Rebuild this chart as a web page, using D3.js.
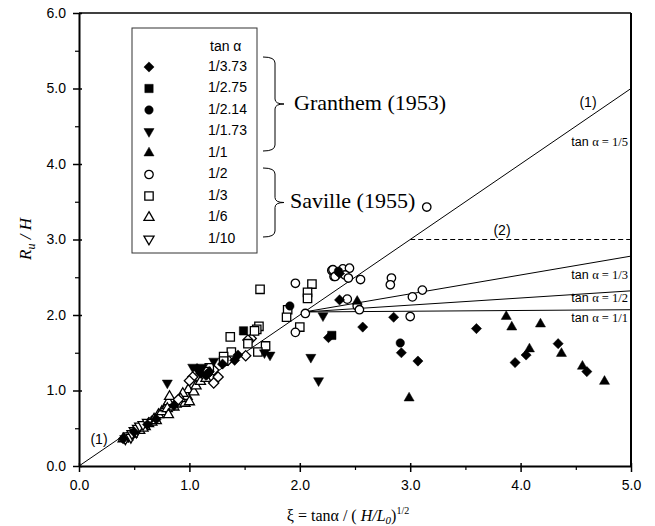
<!DOCTYPE html>
<html><head><meta charset="utf-8">
<script src="https://cdn.jsdelivr.net/npm/d3@7"></script>
<style>body{margin:0;background:#fff}</style>
</head><body>
<svg id="c" width="655" height="526"></svg>
<script>
// ---- data ----
const xTickValues = [0, 1, 2, 3, 4, 5];
const yTickValues = [0, 1, 2, 3, 4, 5, 6];
const legendLabels = ["1/3.73", "1/2.75", "1/2.14", "1/1.73", "1/1", "1/2", "1/3", "1/6", "1/10"];
const legendSymbols = ["diamond", "square", "circle", "down", "up", "circle", "square", "up", "down"];
const legendFilled = [true, true, true, true, true, false, false, false, false];

const g373 = [[0.40,0.36],[0.50,0.45],[0.62,0.55],[0.70,0.62],[0.86,0.80],[1.07,1.29],[1.10,1.23],[1.15,1.20],[1.18,1.25],[1.30,1.35],[1.41,1.40],[1.44,1.47],[2.26,1.70],[2.36,2.55],[2.36,2.20],[2.57,1.84],[2.85,1.97],[2.92,1.50],[3.07,1.39],[3.60,1.82],[3.95,1.37],[4.05,1.47],[4.34,1.62],[4.60,1.25]];
const g275 = [[1.49,1.79],[2.29,1.73]];
const g214 = [[1.91,2.12],[2.35,2.58],[2.91,1.63]];
const g173 = [[0.80,1.10],[1.03,1.31],[1.12,1.31],[1.08,1.27],[1.22,1.39],[1.68,1.50],[1.73,1.47],[2.10,1.44],[2.17,1.13],[2.21,1.99]];
const g1 = [[2.99,0.90],[2.52,2.18],[3.87,1.98],[3.92,1.84],[4.18,1.88],[4.08,1.55],[4.37,1.49],[4.56,1.32],[4.76,1.12]];
const s2 = [[1.96,2.42],[2.29,2.59],[2.31,2.51],[2.30,2.60],[2.39,2.61],[2.45,2.62],[2.32,2.51],[2.41,2.53],[2.44,2.49],[2.55,2.47],[2.83,2.49],[2.82,2.40],[3.11,2.33],[3.02,2.24],[3.00,1.98],[2.43,2.21],[2.52,2.12],[2.54,2.07],[2.05,2.02],[1.96,1.77],[3.15,3.43]];
const s3 = [[1.64,2.34],[2.11,2.41],[2.07,2.30],[2.07,2.22],[1.89,2.07],[1.88,1.97],[2.00,1.84],[1.63,1.85],[1.61,1.81],[1.59,1.79],[1.37,1.71],[1.53,1.62],[1.69,1.59],[1.62,1.51],[1.38,1.51],[1.31,1.45],[1.31,1.39],[1.18,1.30],[1.15,1.25]];
const s6 = [[0.40,0.36],[0.44,0.38],[0.48,0.42],[0.55,0.47],[0.60,0.52],[0.63,0.56],[0.66,0.58],[0.68,0.62],[0.72,0.68],[0.75,0.72],[0.78,0.77],[0.80,0.80],[0.81,0.85],[0.82,0.92],[0.80,0.76],[0.81,0.68],[0.96,0.83],[0.98,0.92],[1.00,0.85],[0.99,1.01],[1.04,0.98],[0.94,0.96],[1.06,1.06],[1.10,1.12],[1.15,1.16],[0.88,0.82],[0.92,0.89],[0.86,0.78],[0.70,0.60],[0.58,0.50]];
const s10 = [[0.42,0.36],[0.45,0.40],[0.47,0.38],[0.48,0.43],[0.50,0.47],[0.52,0.45],[0.53,0.50],[0.55,0.53],[0.58,0.55],[0.62,0.58]];
const openDiamonds = [[1.22,1.27],[1.26,1.18],[1.22,1.10],[1.03,1.18],[1.00,1.13],[1.56,1.69],[1.53,1.67],[1.51,1.46],[1.16,1.22],[0.90,0.88],[1.35,1.40]];

const line1 = [[0, 0], [5, 5]];
const line2 = [[3, 3], [5, 3]];
const lineT3 = [[2.04, 2.04], [5, 2.78]];
const lineT2 = [[2.04, 2.04], [5, 2.32]];
const lineT1 = [[2.04, 2.04], [5, 2.07]];

// ---- drawing ----
const svg = d3.select("#c");
const L = 79, R = 631, T = 13, B = 466;
const x = d3.scaleLinear().domain([0, 5]).range([L, R]);
const y = d3.scaleLinear().domain([0, 6]).range([B, T]);
const sans = "'Liberation Sans', Arial, sans-serif";
const serif = "'Liberation Serif', 'Times New Roman', serif";

// frame
svg.append("line").attr("x1", L).attr("x2", R).attr("y1", T).attr("y2", T).attr("stroke", "#000").attr("stroke-width", 1.5);
svg.append("line").attr("x1", R).attr("x2", R).attr("y1", T).attr("y2", B).attr("stroke", "#000").attr("stroke-width", 2);

// axes
const xAxis = d3.axisBottom(x).tickValues(xTickValues).tickFormat(d3.format(".1f")).tickSizeInner(6).tickSizeOuter(0);
const gx = svg.append("g").attr("transform", `translate(0,${B})`).call(xAxis);
gx.select(".domain").attr("stroke-width", 2);
gx.selectAll(".tick line").attr("y1", -3).attr("stroke-width", 1.5);
gx.selectAll(".tick text").attr("font-family", sans).attr("font-size", 14).attr("y", 11).attr("dy", "0.95em");
const xMinor = d3.axisBottom(x).tickValues([0.5,1.5,2.5,3.5,4.5]).tickFormat("").tickSize(4).tickSizeOuter(0);
const gxm = svg.append("g").attr("transform", `translate(0,${B})`).call(xMinor);
gxm.select(".domain").remove();
gxm.selectAll(".tick line").attr("stroke-width", 1.2);

const yAxis = d3.axisLeft(y).tickValues(yTickValues).tickFormat(d3.format(".1f")).tickSizeInner(6).tickSizeOuter(0);
const gy = svg.append("g").attr("transform", `translate(${L},0)`).call(yAxis);
gy.select(".domain").attr("stroke-width", 2);
gy.selectAll(".tick line").attr("x1", 3).attr("stroke-width", 1.5);
gy.selectAll(".tick text").attr("font-family", sans).attr("font-size", 14).attr("x", -13);
const yMinor = d3.axisLeft(y).tickValues([0.5,1.5,2.5,3.5,4.5,5.5]).tickFormat("").tickSize(4).tickSizeOuter(0);
const gym = svg.append("g").attr("transform", `translate(${L},0)`).call(yMinor);
gym.select(".domain").remove();
gym.selectAll(".tick line").attr("stroke-width", 1.2);

// axis titles
const xt = svg.append("text").attr("x", 348).attr("y", 521).attr("text-anchor", "middle")
  .attr("font-family", serif).attr("font-size", 16);
xt.append("tspan").text("ξ = tanα / ( ");
xt.append("tspan").attr("font-style", "italic").text("H/L");
xt.append("tspan").attr("font-style", "italic").attr("font-size", 11).attr("dy", 3).text("0");
xt.append("tspan").attr("dy", -3).text(")");
xt.append("tspan").attr("font-size", 10).attr("dy", -7).text("1/2");

const yt = svg.append("text").attr("transform", `translate(31,239) rotate(-90)`).attr("text-anchor", "middle")
  .attr("font-family", serif).attr("font-size", 17).attr("font-style", "italic");
yt.append("tspan").text("R");
yt.append("tspan").attr("font-size", 12).attr("dy", 4).text("u");
yt.append("tspan").attr("dy", -4).text(" / H");

// lines
const lineGen = d3.line().x(d => x(d[0])).y(d => y(d[1]));
[line1, lineT3, lineT2, lineT1].forEach(l => {
  svg.append("path").attr("d", lineGen(l)).attr("fill", "none").attr("stroke", "#000").attr("stroke-width", 1);
});
svg.append("path").attr("d", lineGen(line2)).attr("fill", "none").attr("stroke", "#000").attr("stroke-width", 1).attr("stroke-dasharray", "5,3");

// line labels
function lbl(tx, ty, txt, anchor) {
  svg.append("text").attr("x", tx).attr("y", ty).attr("text-anchor", anchor || "middle")
    .attr("dominant-baseline", "middle").attr("font-family", sans).attr("font-size", 14).text(txt);
}
lbl(99, 440, "(1)");
lbl(588, 103, "(1)");
lbl(502, 231, "(2)");
function tanLbl(ty, frac) {
  const t = svg.append("text").attr("x", 628).attr("y", ty).attr("text-anchor", "end")
    .attr("dominant-baseline", "middle").attr("font-size", 12.5);
  t.append("tspan").attr("font-family", sans).text("tan ");
  t.append("tspan").attr("font-family", serif).text("α = " + frac);
}
tanLbl(143, "1/5");
tanLbl(276, "1/3");
tanLbl(299, "1/2");
tanLbl(319, "1/1");

// symbols
function symPath(kind) {
  if (kind === "circle") return d3.symbol(d3.symbolCircle, 56)();
  if (kind === "square") return d3.symbol(d3.symbolSquare, 70)();
  if (kind === "diamond") return d3.symbol(d3.symbolSquare, 52)();
  return d3.symbol(d3.symbolTriangle, 44)();
}
function rot(kind) {
  if (kind === "diamond") return 45;
  if (kind === "down") return 180;
  return 0;
}
function drawSeries(data, kind, filled) {
  svg.append("g").selectAll("path").data(data).join("path")
    .attr("d", symPath(kind))
    .attr("transform", d => `translate(${x(d[0])},${y(d[1])}) rotate(${rot(kind)})`)
    .attr("fill", filled ? "#000" : "#fff")
    .attr("stroke", "#000").attr("stroke-width", filled ? 0.5 : 1.3);
}
drawSeries(s6, "up", false);
drawSeries(s10, "down", false);
drawSeries(openDiamonds, "diamond", false);
drawSeries(s3, "square", false);
drawSeries(s2, "circle", false);
drawSeries(g373, "diamond", true);
drawSeries(g275, "square", true);
drawSeries(g214, "circle", true);
drawSeries(g173, "down", true);
drawSeries(g1, "up", true);

// legend
svg.append("rect").attr("x", 132).attr("y", 28).attr("width", 125).attr("height", 225)
  .attr("fill", "#fff").attr("stroke", "#333").attr("stroke-width", 1);
svg.append("text").attr("x", 210).attr("y", 47).attr("dominant-baseline", "middle")
  .attr("font-family", sans).attr("font-size", 14).text("tan α");
legendLabels.forEach((lab, i) => {
  const yy = 67 + i * 21.5;
  const k = legendSymbols[i];
  svg.append("path").attr("d", symPath(k))
    .attr("transform", `translate(149,${yy}) rotate(${rot(k)})`)
    .attr("fill", legendFilled[i] ? "#000" : "#fff").attr("stroke", "#000")
    .attr("stroke-width", legendFilled[i] ? 0.5 : 1.3);
  svg.append("text").attr("x", 208).attr("y", yy).attr("dominant-baseline", "middle")
    .attr("font-family", sans).attr("font-size", 14).text(lab);
});

// braces
function brace(y0, y1, xl, xr, tip) {
  const ym = (y0 + y1) / 2;
  const p = `M${xl},${y0} Q${xr},${y0} ${xr},${y0 + 6} L${xr},${ym - 5} Q${xr},${ym} ${tip},${ym} Q${xr},${ym} ${xr},${ym + 5} L${xr},${y1 - 6} Q${xr},${y1} ${xl},${y1}`;
  svg.append("path").attr("d", p).attr("fill", "none").attr("stroke", "#000").attr("stroke-width", 1);
}
brace(57, 151, 263, 275, 284);
brace(168, 237, 263, 275, 284);
svg.append("text").attr("x", 294).attr("y", 105).attr("dominant-baseline", "middle")
  .attr("font-family", serif).attr("font-size", 22).text("Granthem (1953)");
svg.append("text").attr("x", 290).attr("y", 203).attr("dominant-baseline", "middle")
  .attr("font-family", serif).attr("font-size", 22).text("Saville (1955)");
</script>
</body></html>
